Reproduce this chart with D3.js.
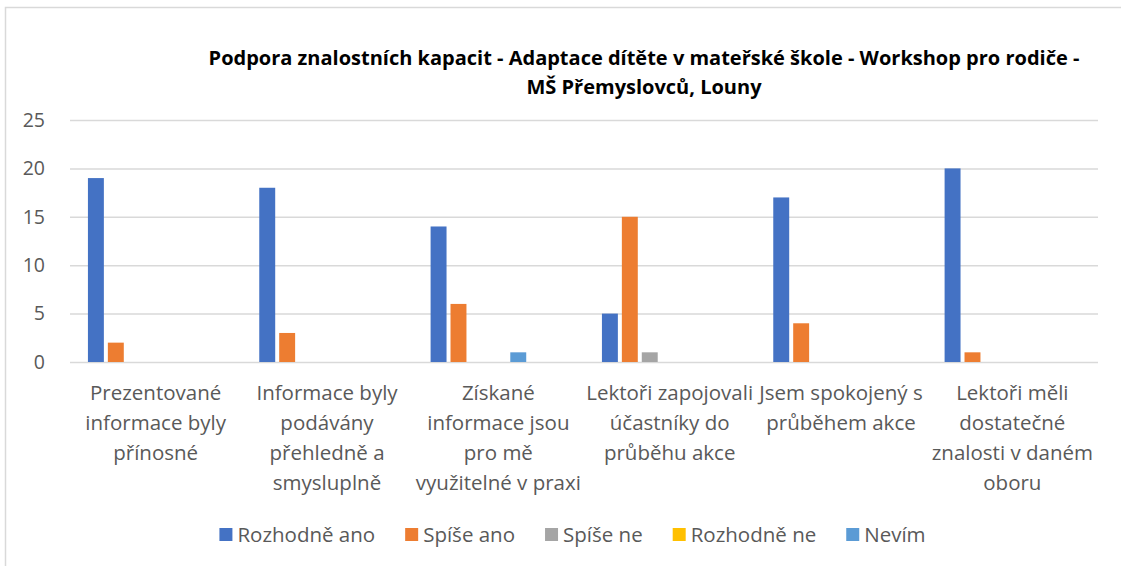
<!DOCTYPE html>
<html>
<head>
<meta charset="utf-8">
<script src="https://cdn.jsdelivr.net/npm/d3@7"></script>
<style>
  body { margin: 0; background: #fff; }
  text { font-family: "Open Sans", Lato, sans-serif; }
</style>
</head>
<body>
<svg id="chart" width="1121" height="566"></svg>
<script>
// data
var categoryLines = [
  ["Prezentované", "informace byly", "přínosné"],
  ["Informace byly", "podávány", "přehledně a", "smysluplně"],
  ["Získané", "informace jsou", "pro mě", "využitelné v praxi"],
  ["Lektoři zapojovali", "účastníky do", "průběhu akce"],
  ["Jsem spokojený s", "průběhem akce"],
  ["Lektoři měli", "dostatečné", "znalosti v daném", "oboru"]
];
var categories = categoryLines.map(function(l) { return l.join(" "); });
var seriesNames = ["Rozhodně ano", "Spíše ano", "Spíše ne", "Rozhodně ne", "Nevím"];
var seriesColors = ["#4472C4", "#ED7D31", "#A5A5A5", "#FFC000", "#5B9BD5"];
var rozhodneAno = [19, 18, 14, 5, 17, 20];
var spiseAno    = [2, 3, 6, 15, 4, 1];
var spiseNe     = [0, 0, 0, 1, 0, 0];
var rozhodneNe  = [0, 0, 0, 0, 0, 0];
var nevim       = [0, 0, 1, 0, 0, 0];
var yTicks = [0, 5, 10, 15, 20, 25];
var titleLines = ["Podpora znalostních kapacit - Adaptace dítěte v mateřské škole - Workshop pro rodiče  -", "MŠ Přemyslovců, Louny"];

var seriesValues = [rozhodneAno, spiseAno, spiseNe, rozhodneNe, nevim];
// the original chart keeps two empty series slots after these five
var slots = seriesNames.concat(["", " "]);

var svg = d3.select("#chart");

svg.append("rect")
    .attr("x", 5.5).attr("y", 7.5)
    .attr("width", 1130).attr("height", 600)
    .style("fill", "#fff").style("stroke", "#d9d9d9").style("stroke-width", 1.5);

var x0 = d3.scaleBand().domain(categories).range([70, 1098]);
var x1 = d3.scaleBand().domain(slots).range([0, x0.bandwidth()])
    .paddingInner(0.2).paddingOuter(0.9);
var y = d3.scaleLinear().domain([0, 25]).range([362, 120]);

// title
svg.append("g").selectAll("text")
    .data(titleLines)
  .enter().append("text")
    .attr("x", 644)
    .attr("y", function(d, i) { return 58 + i * 29; })
    .attr("dy", "0.35em")
    .style("text-anchor", "middle")
    .style("font-weight", "bold")
    .style("font-size", "20px")
    .style("fill", "#000")
    .text(function(d) { return d; });

// gridlines + y labels
var yAxis = svg.append("g")
    .attr("transform", "translate(70,0)")
    .call(d3.axisLeft(y).tickValues(yTicks).tickSize(-1028).tickPadding(25));
yAxis.select(".domain").remove();
yAxis.selectAll(".tick line").style("stroke", "#d9d9d9").style("stroke-width", 1.5);
yAxis.selectAll(".tick text")
    .style("font-size", "19.5px").style("fill", "#595959")
    .style("font-family", "'Open Sans', sans-serif");

// bars
var groups = svg.append("g").selectAll("g")
    .data(categories)
  .enter().append("g")
    .attr("transform", function(d) { return "translate(" + x0(d) + ",0)"; });

groups.selectAll("rect")
    .data(function(d, ci) {
      return seriesNames.map(function(s, si) { return {s: s, v: seriesValues[si][ci], c: seriesColors[si]}; });
    })
  .enter().append("rect")
    .attr("x", function(d) { return x1(d.s); })
    .attr("width", x1.bandwidth())
    .attr("y", function(d) { return y(d.v); })
    .attr("height", function(d) { return y(0) - y(d.v); })
    .style("fill", function(d) { return d.c; });

// category labels
svg.append("g").selectAll("g")
    .data(categoryLines)
  .enter().append("g")
    .attr("transform", function(d, i) { return "translate(" + (x0(categories[i]) + x0.bandwidth() / 2) + ",0)"; })
  .selectAll("text")
    .data(function(d) { return d; })
  .enter().append("text")
    .attr("y", function(d, i) { return 393 + i * 30; })
    .attr("dy", "0.35em")
    .style("text-anchor", "middle")
    .style("font-size", "20.5px")
    .style("fill", "#595959")
    .text(function(d) { return d; });

// legend
var legend = svg.append("g");
var items = legend.selectAll("g")
    .data(seriesNames)
  .enter().append("g");
items.append("rect")
    .attr("width", 13).attr("height", 13)
    .attr("y", 528)
    .style("fill", function(d, i) { return seriesColors[i]; });
items.append("text")
    .attr("x", 18)
    .attr("y", 535)
    .attr("dy", "0.35em")
    .style("font-size", "20.5px")
    .style("fill", "#595959")
    .text(function(d) { return d; });

var GAP = 30, offset = 0, widths = [];
items.each(function() {
  widths.push(this.getBBox().width);
});
var total = d3.sum(widths) + GAP * (widths.length - 1);
var start = 572.5 - total / 2;
items.attr("transform", function(d, i) {
  var tx = start + offset;
  offset += widths[i] + GAP;
  return "translate(" + tx + ",0)";
});
</script>
</body>
</html>
